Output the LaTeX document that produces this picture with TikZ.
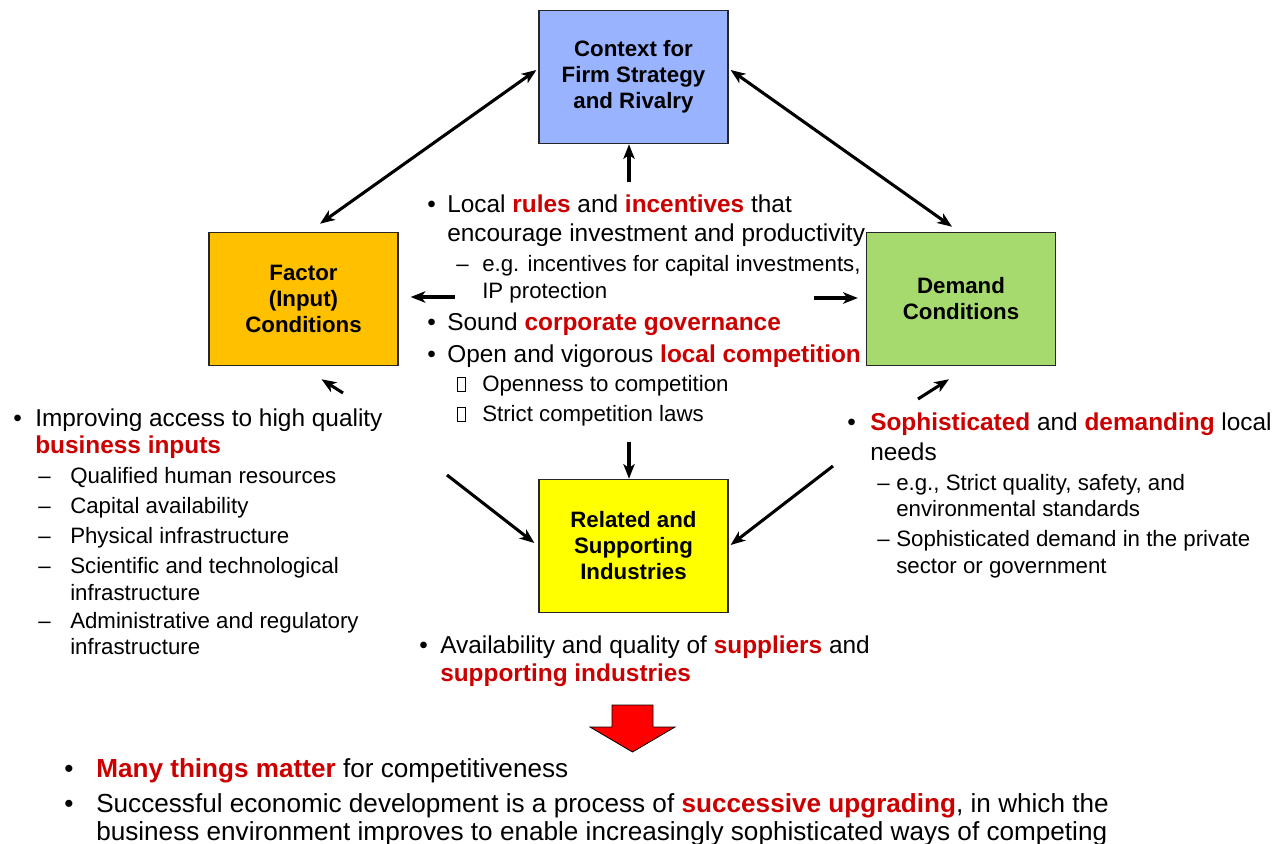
\documentclass[tikz,border=0pt]{standalone}
\usepackage{fontspec}
\setmainfont{Liberation Sans}
\usetikzlibrary{arrows.meta,calc}
\definecolor{hl}{RGB}{204,0,0}
\definecolor{boxblue}{RGB}{153,179,255}
\definecolor{boxorange}{RGB}{255,192,0}
\definecolor{boxgreen}{RGB}{166,217,110}
\definecolor{boxyellow}{RGB}{255,255,0}
\newcommand\hi[1]{\textcolor{hl}{\bfseries #1}}
\newcommand\missingglyph{{\setlength\fboxsep{0pt}\setlength\fboxrule{0.6pt}\fbox{\rule{0pt}{10pt}\hspace{5pt}}}}
\tikzset{
  box/.style={draw=black!85, line width=0.9pt, minimum width=141.75pt, minimum height=100pt,
    align=center, inner sep=0pt, font=\fontsize{16.7}{19.5}\selectfont\bfseries},
  tl/.style={anchor=base west, inner sep=0pt, font=\fontsize{18.3}{22}\selectfont},
  sl/.style={anchor=base west, inner sep=0pt, font=\fontsize{16.7}{20}\selectfont},
  bl/.style={anchor=base west, inner sep=0pt, font=\fontsize{19.6}{23}\selectfont},
  conn/.style={line width=2.3pt, -{Stealth[length=11pt,width=8.5pt,inset=3pt]}},
  dconn/.style={line width=2.3pt, {Stealth[length=11pt,width=8.5pt,inset=3pt]}-{Stealth[length=11pt,width=8.5pt,inset=3pt]}},
}
\begin{document}
\begin{tikzpicture}[x=0.75pt,y=-0.75pt]
\useasboundingbox (0,0) rectangle (1274,843);
\fill[white] (0,0) rectangle (1274,843);

% boxes
\node[box, fill=boxblue]   (ctx) at (633.5,77)  {Context for\\Firm Strategy\\and Rivalry};
\node[box, fill=boxorange] (fac) at (303.5,299) {Factor\\(Input)\\Conditions};
\node[box, fill=boxgreen]  (dem) at (961,299)   {Demand\\Conditions};
\node[box, fill=boxyellow] (rel) at (633.5,546) {Related and\\Supporting\\Industries};

% free ends
\coordinate (cUp)   at (629,182);
\coordinate (cLeft) at (455,297);
\coordinate (cRight) at (814,298);
\coordinate (cDown) at (629,442);
\coordinate (cFac)  at (343,393);
\coordinate (cDem)  at (918,399);
\coordinate (cRelL) at (447,475);
\coordinate (cRelR) at (833,466);

% connectors
\draw[dconn] ([shift={(16.5,-8)}]fac.north) -- ([shift={(-2,-7)}]ctx.west);
\draw[dconn] ([shift={(2,-7)}]ctx.east) -- ([shift={(-9,-5)}]dem.north);
\draw[conn] (cUp) -- (cUp |- ctx.south);
\draw[conn] (cLeft) -- ([shift={(12,-2)}]fac.east);
\draw[conn] (cRight) -- ([shift={(-8,-1)}]dem.west);
\draw[conn] (cDown) -- (cDown |- rel.north);
\draw[conn] (cFac) -- ([shift={(18,13)}]fac.south);
\draw[conn] (cDem) -- ([shift={(-12,13)}]dem.south);
\draw[conn] (cRelL) -- ([shift={(-4,-3)}]rel.west);
\draw[conn] (cRelR) -- ([shift={(2,-1)}]rel.east);

% centre block
\node[tl] (cb1) at (427,212) {•};
\node[tl] (c1)  at (447,212) {Local \hi{rules} and \hi{incentives} that};
\node[tl] (c2)  at (447,241) {encourage investment and productivity};
\node[sl] (cd1) at (456,271) {–};
\node[sl] (c3)  at (482,271) {e.g. incentives for capital investments,};
\node[sl] (c4)  at (482,298) {IP protection};
\node[tl] (cb2) at (427,330) {•};
\node[tl] (c5)  at (447,330) {Sound \hi{corporate governance}};
\node[tl] (cb3) at (427,362) {•};
\node[tl] (c6)  at (447,362) {Open and vigorous \hi{local competition}};
\node[sl] (cg1) at (457,391) {\missingglyph};
\node[sl] (c7)  at (482,391) {Openness to competition};
\node[sl] (cg2) at (457,421) {\missingglyph};
\node[sl] (c8)  at (482,421) {Strict competition laws};

% left block
\node[tl] (lb1) at (13,426.5) {•};
\node[tl] (l1)  at (35,426.5) {Improving access to high quality};
\node[tl] (l2)  at (35,453.5) {\hi{business inputs}};
\node[sl] (ld1) at (38,483.5) {–};
\node[sl] (l3)  at (70,483.5) {Qualified human resources};
\node[sl] (ld2) at (38,513.5) {–};
\node[sl] (l4)  at (70,513.5) {Capital availability};
\node[sl] (ld3) at (38,543) {–};
\node[sl] (l5)  at (70,543) {Physical infrastructure};
\node[sl] (ld4) at (38,573) {–};
\node[sl] (l6)  at (70,573) {Scientific and technological};
\node[sl] (l7)  at (70,600) {infrastructure};
\node[sl] (ld5) at (38,628.5) {–};
\node[sl] (l8)  at (70,628.5) {Administrative and regulatory};
\node[sl] (l9)  at (70,654.5) {infrastructure};

% right block
\node[tl] (rb1) at (847,430.7) {•};
\node[tl] (r1)  at (870,430.7) {\hi{Sophisticated} and \hi{demanding} local};
\node[tl] (r2)  at (870,460) {needs};
\node[sl] (rd1) at (877,490.7) {–};
\node[sl] (r3)  at (896,490.7) {e.g., Strict quality, safety, and};
\node[sl] (r4)  at (896,516.7) {environmental standards};
\node[sl] (rd2) at (877,546.7) {–};
\node[sl] (r5)  at (896,546.7) {Sophisticated demand in the private};
\node[sl] (r6)  at (896,573.3) {sector or government};

% bottom centre block
\node[tl] (bb1) at (419,653.3) {•};
\node[tl] (b1)  at (440,653.3) {Availability and quality of \hi{suppliers} and};
\node[tl] (b2)  at (440,681.7) {\hi{supporting industries}};

% red arrow
\draw[fill=red, draw=black, line width=0.6pt]
  (612,705) -- (653,705) -- (653,727) -- (675,727) -- (632.5,752) -- (590,727) -- (612,727) -- cycle;

% bottom bullets
\node[bl] (fb1) at (64,777) {•};
\node[bl] (f1)  at (96,777) {\hi{Many things matter} for competitiveness};
\node[bl] (fb2) at (64,812) {•};
\node[bl] (f2)  at (96,812) {Successful economic development is a process of \hi{successive upgrading}, in which the};
\node[bl] (f3)  at (96,840) {business environment improves to enable increasingly sophisticated ways of competing};
\end{tikzpicture}
\end{document}
